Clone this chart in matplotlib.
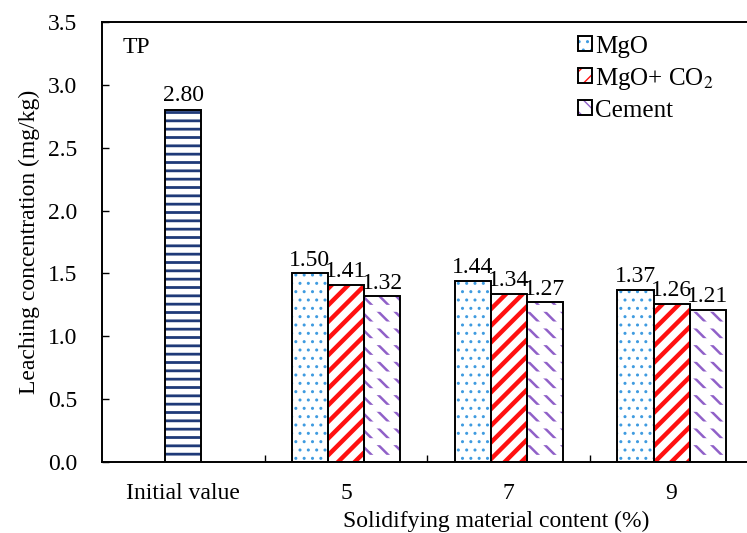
import numpy as np
import matplotlib
matplotlib.use("Agg")
import matplotlib.pyplot as plt
from matplotlib.patches import Patch
from matplotlib.legend_handler import HandlerTuple

plt.rcParams['font.family'] = ['Liberation Serif', 'DejaVu Serif']
plt.rcParams['mathtext.fontset'] = 'stix'

# data
categories = ['Initial value', '5', '7', '9']
initial_value = 2.80
mgo = [1.50, 1.44, 1.37]
mgo_co2 = [1.41, 1.34, 1.26]
cement = [1.32, 1.27, 1.21]
series_names = ['MgO', 'MgO+ CO$_2$', 'Cement']

FS = 17


def set_hlw(bars, lw):
    for p in bars:
        if hasattr(p, 'set_hatch_linewidth'):
            p.set_hatch_linewidth(lw)


def hatched_bar(ax, x, h, w, style):
    hatch, hcolor, hlw, breaker = style
    # matplotlib 3.10 draws hatches in the edge colour, so draw hatch and outline separately
    b = ax.bar(x, h, w, color='white', edgecolor=hcolor, hatch=hatch, linewidth=0, zorder=2)
    set_hlw(b, hlw)
    if breaker:
        # white hatch on top chops the purple lines into short dashes
        b2 = ax.bar(x, h, w, fill=False, edgecolor='white', hatch='-', linewidth=0, zorder=2.5)
        set_hlw(b2, 5.0)
    ax.bar(x, h, w, fill=False, edgecolor='black', linewidth=1.4, zorder=3)


fig = plt.figure(figsize=(7.47, 5.33), dpi=100)
ax = fig.add_axes([0.1365, 0.1332, 0.8715, 0.8255])

w = 0.222
initial_style = ('--', '#1f3a78', 2.0, False)
styles = [('..', '#3f9be0', 1.0, False), ('//', '#ff1010', 3.2, False), ('\\\\', '#9060c8', 1.8, True)]

hatched_bar(ax, [0], [initial_value], w, initial_style)
ax.text(0, initial_value + 0.03, '%.2f' % initial_value, ha='center', va='bottom', fontsize=FS)

x = np.arange(1, 4)
for i, vals in enumerate([mgo, mgo_co2, cement]):
    xs = x + (i - 1) * w
    hatched_bar(ax, xs, vals, w, styles[i])
    for xx, v in zip(xs, vals):
        ax.text(xx, v + 0.02, '%.2f' % v, ha='center', va='bottom', fontsize=FS)

ax.set_xlim(-0.5, 3.5)
ax.set_ylim(0, 3.5)
yt = np.arange(0, 3.51, 0.5)
ax.set_yticks(yt)
ax.set_yticklabels(['%.1f' % t for t in yt], fontsize=FS)

# category labels centred under each group, tick marks between groups
ax.set_xticks([0.5, 1.5, 2.5])
ax.set_xticklabels([])
ax.tick_params(axis='x', direction='in', length=5, width=1)
ax.tick_params(axis='y', direction='in', length=5, width=1, pad=18)
for i, c in enumerate(categories):
    ax.text(i, -0.17, c, ha='center', va='top', fontsize=FS)

for s in ax.spines.values():
    s.set_linewidth(1.4)
ax.spines['right'].set_visible(False)

ax.set_ylabel('Leaching concentration (mg/kg)', fontsize=FS)
ax.yaxis.set_label_coords(-0.095, 0.5)
ax.set_xlabel('Solidifying material content (%)', fontsize=FS)
ax.xaxis.set_label_coords(0.605, -0.112)

ax.text(0.032, 0.965, 'TP', transform=ax.transAxes, fontsize=FS, va='top', ha='left')

handles = []
for hatch, col, lw, br in styles:
    hp = Patch(facecolor='white', edgecolor=col, hatch=hatch, linewidth=0)
    fp = Patch(fill=False, edgecolor='black', linewidth=1.4)
    handles.append((hp, fp))
leg = ax.legend(handles, series_names, loc='upper left', bbox_to_anchor=(0.71, 1.0),
                frameon=False, fontsize=18,
                handler_map={tuple: HandlerTuple(ndivide=1)},
                handlelength=0.55, handleheight=0.55, handletextpad=0.15,
                labelspacing=0.32, borderaxespad=0.15)

fig.savefig('out.png', dpi=100)
